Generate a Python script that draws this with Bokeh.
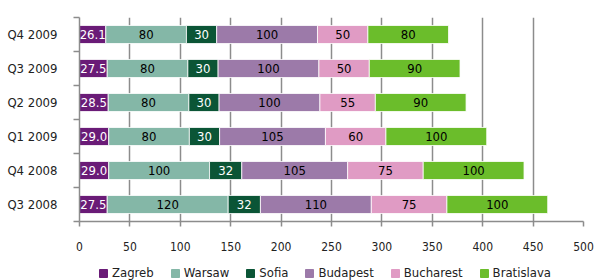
import numpy as np
from bokeh.plotting import figure
from bokeh.layouts import column
from bokeh.models import ColumnDataSource, FixedTicker, Legend, LegendItem, Range1d
from bokeh.core.properties import value
from bokeh.embed import file_html
from bokeh.resources import INLINE

quarters = ["Q4 2009", "Q3 2009", "Q2 2009", "Q1 2009", "Q4 2008", "Q3 2008"]
cities = ["Zagreb", "Warsaw", "Sofia", "Budapest", "Bucharest", "Bratislava"]
zagreb = [26.1, 27.5, 28.5, 29.0, 29.0, 27.5]
warsaw = [80, 80, 80, 80, 100, 120]
sofia = [30, 30, 30, 30, 32, 32]
budapest = [100, 100, 100, 105, 105, 110]
bucharest = [50, 50, 55, 60, 75, 75]
bratislava = [80, 90, 90, 100, 100, 100]
colors = ["#6a1b77", "#84b7a7", "#0b5536", "#9c7aa9", "#e09bc4", "#6bbd2b"]
label_colors = ["white", "black", "white", "black", "black", "black"]
x_ticks = [0, 50, 100, 150, 200, 250, 300, 350, 400, 450, 500]

FONT = "DejaVu Sans Condensed"

series = [zagreb, warsaw, sofia, budapest, bucharest, bratislava]
n = len(quarters)
ypos = [n - 0.5 - i for i in range(n)]

p = figure(width=597, height=258, output_backend="svg", toolbar_location=None,
           x_range=Range1d(0, 500), y_range=Range1d(0, n),
           min_border_left=79, min_border_right=14, min_border_top=17, min_border_bottom=37)
p.outline_line_color = None
p.background_fill_color = "white"

left = np.zeros(n)
for k, (city, vals) in enumerate(zip(cities, series)):
    vals = np.array(vals, dtype=float)
    right = left + vals
    if k == 0:
        labels = [f"{v:.1f}" for v in vals]
    else:
        labels = [f"{v:g}" for v in vals]
    src = ColumnDataSource(dict(y=ypos, left=left, right=right, mid=(left + right) / 2, lab=labels))
    p.hbar(y="y", left="left", right="right", height=0.53, source=src,
           fill_color=colors[k], line_color="white", line_width=0.8)
    p.text(x="mid", y="y", text="lab", source=src, text_align="center", text_baseline="middle",
           text_color=label_colors[k], text_font=value(FONT), text_font_size="13px")
    left = right

# x axis
p.xaxis.ticker = FixedTicker(ticks=x_ticks)
p.xaxis.axis_line_color = "#8c8c8c"
p.xaxis.axis_line_width = 1.5
p.xaxis.major_tick_line_color = "#8c8c8c"
p.xaxis.major_tick_line_width = 1.5
p.xaxis.major_tick_out = 5
p.xaxis.major_tick_in = 0
p.xaxis.minor_tick_line_color = None
p.xaxis.major_label_standoff = 15
p.xaxis.major_label_text_font = FONT
p.xaxis.major_label_text_font_size = "12px"
p.xaxis.major_label_text_color = "#222222"

# y axis
p.yaxis.ticker = FixedTicker(ticks=ypos, minor_ticks=list(range(n + 1)))
p.yaxis.major_label_overrides = {y: q for y, q in zip(ypos, quarters)}
p.yaxis.axis_line_color = "#8c8c8c"
p.yaxis.axis_line_width = 1.5
p.yaxis.major_tick_line_color = None
p.yaxis.major_tick_out = 6
p.yaxis.minor_tick_line_color = "#8c8c8c"
p.yaxis.minor_tick_line_width = 1.5
p.yaxis.minor_tick_out = 6
p.yaxis.minor_tick_in = 0
p.yaxis.major_label_standoff = 16
p.yaxis.major_label_text_font = FONT
p.yaxis.major_label_text_font_size = "13px"
p.yaxis.major_label_text_color = "#222222"

p.xgrid.ticker = FixedTicker(ticks=x_ticks)
p.xgrid.grid_line_color = "#8c8c8c"
p.xgrid.grid_line_width = 1.5
p.ygrid.grid_line_color = None

# legend strip
lg = figure(width=597, height=22, output_backend="svg", toolbar_location=None,
            x_range=Range1d(0, 1), y_range=Range1d(0, 1),
            min_border_left=0, min_border_right=0, min_border_top=0, min_border_bottom=0)
lg.outline_line_color = None
lg.axis.visible = False
lg.grid.visible = False
items = []
for city, c in zip(cities, colors):
    r = lg.hbar(y=[-5], left=[-5], right=[-4], height=0.5, fill_color=c, line_color=c)
    items.append(LegendItem(label=city, renderers=[r]))
legend = Legend(items=items, orientation="horizontal", location=(19, 0),
                label_text_font=FONT, label_text_font_size="13px", label_text_color="#222222",
                glyph_width=10, glyph_height=10, label_standoff=4, spacing=16,
                padding=2, margin=0, border_line_color=None, background_fill_alpha=0,
                label_height=14, label_width=10)
lg.add_layout(legend, "center")

layout = column(p, lg, spacing=0)
open("out.html", "w").write(file_html(layout, INLINE))
